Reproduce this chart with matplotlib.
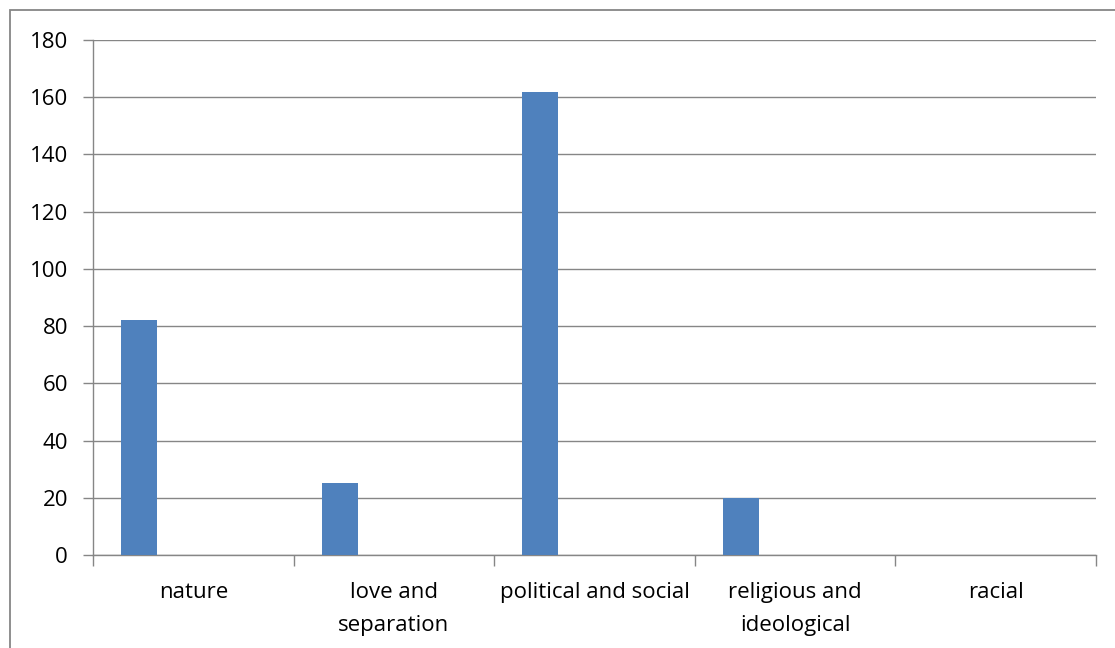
import matplotlib
matplotlib.use("Agg")
import matplotlib.pyplot as plt
from matplotlib.patches import Rectangle
import numpy as np

categories = ["nature", "love and\nseparation", "political and social", "religious and\nideological", "racial"]
values = [82, 25, 162, 20, 0]
yticks = [0, 20, 40, 60, 80, 100, 120, 140, 160, 180]

plt.rcParams['font.family'] = ['Open Sans', 'DejaVu Sans']

W, H = 1115, 648
fig = plt.figure(figsize=(W/100, H/100), dpi=100)
fig.patch.set_facecolor("white")

# outer chart border (extends past right/bottom edges)
fig.patches.append(Rectangle((10/W, -0.1), 1.2, (H-10)/H + 0.1, transform=fig.transFigure,
                             fill=False, edgecolor="#868686", linewidth=1.3))

ax = fig.add_axes([93/W, 1-555/H, (1096-93)/W, (555-40)/H])
n = len(categories)
x = np.arange(n)
bar_w = 0.18
ax.bar(x - 0.5 + 0.14 + bar_w/2, values, width=bar_w, align="center",
       color="#4F81BD", edgecolor="none", zorder=3)

FS = 16
ax.set_xlim(-0.5, n - 0.5)
ax.set_ylim(0, 180)
ax.set_yticks(yticks)
ax.set_yticklabels([str(v) for v in yticks], fontsize=FS)
ax.yaxis.grid(True, color="#868686", linewidth=1)
ax.set_axisbelow(True)
ax.tick_params(axis="y", length=7, color="#868686", width=1, pad=11)

ax.set_xticks(np.arange(n + 1) - 0.5)
ax.set_xticklabels([""] * (n + 1))
ax.tick_params(axis="x", length=8, color="#868686", width=1)
for i, c in enumerate(categories):
    ax.text(i, -27/515*180, c, ha="center", va="top", fontsize=FS,
            transform=ax.transData, linespacing=1.75)

for s in ["top", "right"]:
    ax.spines[s].set_visible(False)
for s in ["left", "bottom"]:
    ax.spines[s].set_color("#868686")
    ax.spines[s].set_linewidth(1)

fig.savefig("out.png", dpi=100, facecolor="white")
